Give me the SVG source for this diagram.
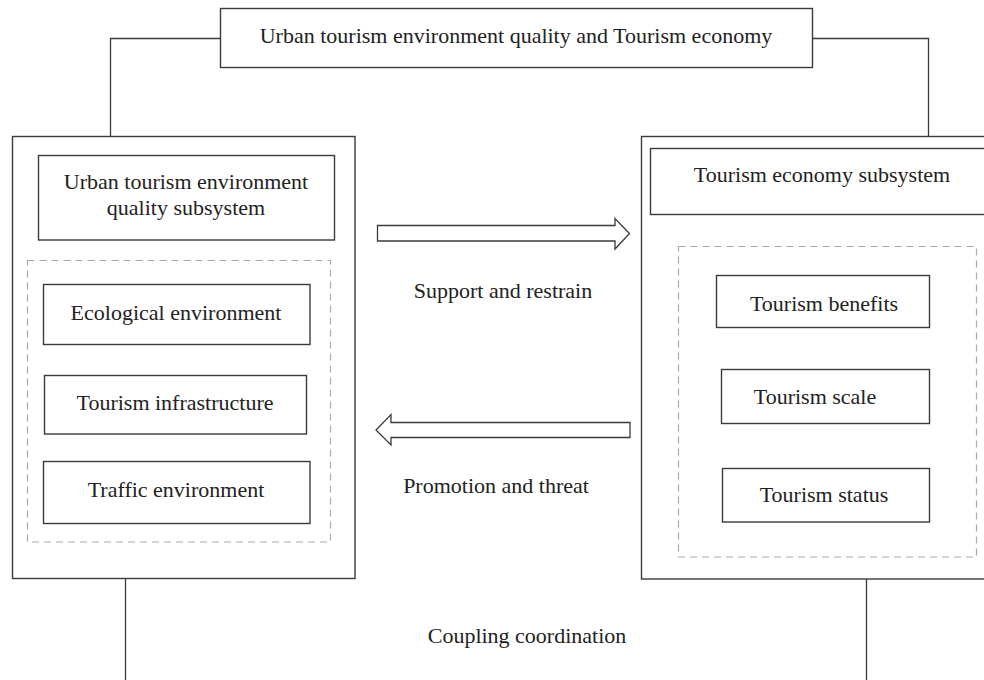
<svg xmlns="http://www.w3.org/2000/svg" width="984" height="680" viewBox="0 0 984 680">
<style>
.box{fill:#fff;stroke:#3a3a3a;stroke-width:1.4}
.dash{fill:none;stroke:#aaa;stroke-width:1.2;stroke-dasharray:7,5}
.ln{fill:none;stroke:#3a3a3a;stroke-width:1.3}
.arr{fill:#fff;stroke:#3a3a3a;stroke-width:1.3;stroke-linejoin:miter}
text{font-family:"Liberation Serif","Times New Roman",serif;font-size:22px;fill:#222;text-anchor:middle}
</style>
<rect width="984" height="680" fill="#fff"/>
<g id="connectors">
<polyline class="ln" points="220.5,38.5 110.5,38.5 110.5,136.5"/>
<polyline class="ln" points="812.5,38.5 928.5,38.5 928.5,136.5"/>
<line class="ln" x1="125.5" y1="579" x2="125.5" y2="680"/>
<line class="ln" x1="866.5" y1="579" x2="866.5" y2="680"/>
<polygon class="arr" points="377.5,225.5 615,225.5 615,218.5 629.5,233.5 615,249 615,241 377.5,241"/>
<polygon class="arr" points="630,422.5 391,422.5 391,414.5 376,430 391,445 391,437.5 630,437.5"/>
<text x="503" y="298">Support and restrain</text>
<text x="496" y="493">Promotion and threat</text>
<text x="527" y="643">Coupling coordination</text>
</g>
<g id="top">
<rect class="box" x="220.5" y="8.5" width="592" height="59"/>
<text x="516" y="43">Urban tourism environment quality and Tourism economy</text>
</g>
<g id="left-system">
<rect class="box" x="12.5" y="136.5" width="342.5" height="442"/>
</g>
<g id="left-subsystem">
<rect class="box" x="38.5" y="155.5" width="296" height="84.5"/>
<text x="186" y="189">Urban tourism environment</text>
<text x="186" y="215">quality subsystem</text>
</g>
<g id="left-group">
<rect class="dash" x="27.5" y="260.5" width="303" height="281.5"/>
</g>
<g id="ecological">
<rect class="box" x="43.5" y="284.5" width="266.5" height="60"/>
<text x="176" y="320">Ecological environment</text>
</g>
<g id="infrastructure">
<rect class="box" x="44.5" y="375.5" width="262" height="58.5"/>
<text x="175" y="410">Tourism infrastructure</text>
</g>
<g id="traffic">
<rect class="box" x="43.5" y="461.5" width="266.5" height="62"/>
<text x="176" y="497">Traffic environment</text>
</g>
<g id="right-system">
<rect class="box" x="641.5" y="136.5" width="360" height="442.5"/>
</g>
<g id="right-subsystem">
<rect class="box" x="650.5" y="148.5" width="350" height="66"/>
<text x="822" y="182">Tourism economy subsystem</text>
</g>
<g id="right-group">
<rect class="dash" x="678.5" y="246.5" width="298" height="310.5"/>
</g>
<g id="benefits">
<rect class="box" x="716.5" y="275.5" width="213" height="52"/>
<text x="824" y="311">Tourism benefits</text>
</g>
<g id="scale">
<rect class="box" x="721.5" y="369.5" width="208" height="54"/>
<text x="815" y="404">Tourism scale</text>
</g>
<g id="status">
<rect class="box" x="722.5" y="468.5" width="207" height="53.5"/>
<text x="824" y="502">Tourism status</text>
</g>
</svg>
